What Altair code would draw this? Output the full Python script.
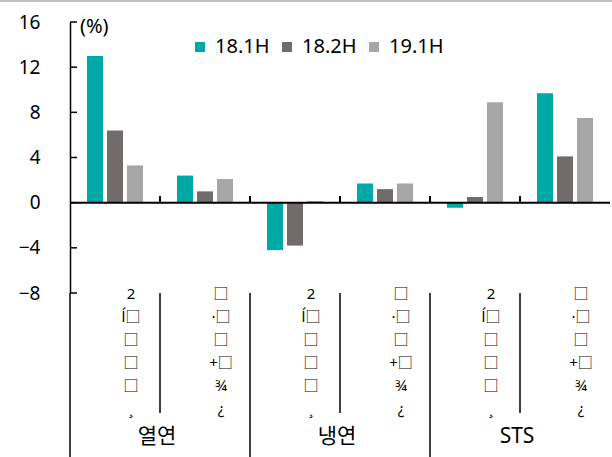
import altair as alt
import pandas as pd

# ---- data ----
categories = ["열연", "냉연", "STS"]
sub_keys = ["a", "b"]
sub_labels = ["2\nĺ□\n□\n□\n□\n¸", "□\n·□\n□\n+□\n¾\n¿"]
series = ["18.1H", "18.2H", "19.1H"]
colors = ["#00A9A5", "#716C6B", "#A6A6A6"]
v_181h = [13.0, 2.4, -4.2, 1.7, -0.45, 9.7]
v_182h = [6.4, 1.0, -3.8, 1.2, 0.5, 4.1]
v_191h = [3.3, 2.1, 0.15, 1.7, 8.9, 7.5]
y_ticks = [-8, -4, 0, 4, 8, 12, 16]
unit_label = ["(%)"]

FONT = "Noto Sans, Noto Sans CJK KR"

slots = [f"{c}-{k}" for c in categories for k in sub_keys]
values = {"18.1H": v_181h, "18.2H": v_182h, "19.1H": v_191h}

bars_df = pd.DataFrame(
    [{"slot": slots[i], "series": s, "value": values[s][i]} for s in series for i in range(len(slots))]
)
sub_df = pd.DataFrame(
    [{"slot": slots[i], "label": sub_labels[i % 2]} for i in range(len(slots))]
)
cat_df = pd.DataFrame(
    [{"slot": f"{c}-{sub_keys[0]}", "cat": c} for c in categories]
)
minor_sep_df = pd.DataFrame({"slot": [slots[i] for i in (1, 3, 5)]})
major_sep_df = pd.DataFrame({"slot": [slots[i] for i in (2, 4)]})
zero_tick_df = pd.DataFrame({"slot": slots[1:]})
ytick_df = pd.DataFrame({"v": y_ticks})
one_df = pd.DataFrame({"t": unit_label})

xscale = alt.Scale(domain=slots, paddingInner=0, paddingOuter=0)
yscale = alt.Scale(domain=[-8, 16], nice=False, zero=False)

bars = alt.Chart(bars_df).mark_bar().encode(
    x=alt.X("slot:N", scale=xscale, axis=None, sort=slots),
    xOffset=alt.XOffset("series:N", sort=series,
                        scale=alt.Scale(paddingInner=0.2, paddingOuter=0.85)),
    y=alt.Y("value:Q", scale=yscale,
            axis=alt.Axis(values=y_ticks, ticks=False, grid=False, domain=True,
                          domainColor="black", domainWidth=1.5, labelFontSize=19,
                          labelFont=FONT, labelColor="black", labelPadding=30,
                          title=None)),
    color=alt.Color("series:N", sort=series,
                    scale=alt.Scale(domain=series, range=colors),
                    legend=alt.Legend(orient="none", legendX=120, legendY=15,
                                      direction="horizontal", title=None,
                                      symbolType="square", symbolSize=100,
                                      symbolStrokeWidth=0, labelFontSize=20,
                                      labelFont=FONT, labelColor="black",
                                      columnPadding=7, labelOffset=5)),
)

zero_line = alt.Chart(one_df).mark_rule(color="black", strokeWidth=2).encode(
    y=alt.Y(datum=0, scale=yscale), x=alt.value(0), x2=alt.value(540)
)

zero_ticks = alt.Chart(zero_tick_df).mark_rule(color="black", strokeWidth=2).encode(
    x=alt.X("slot:N", bandPosition=0, scale=xscale, axis=None, sort=slots),
    y=alt.Y(datum=0, scale=yscale), y2=alt.Y2(datum=0.6)
)

y_inside_ticks = alt.Chart(ytick_df).mark_rule(color="black", strokeWidth=1.5).encode(
    y=alt.Y("v:Q", scale=yscale), x=alt.value(0), x2=alt.value(7)
)

y_ext = alt.Chart(one_df).mark_rule(color="black", strokeWidth=1.5).encode(
    x=alt.value(0), y=alt.value(271), y2=alt.value(435)
)

minor_sep = alt.Chart(minor_sep_df).mark_rule(color="black", strokeWidth=1.5).encode(
    x=alt.X("slot:N", bandPosition=0, scale=xscale, axis=None, sort=slots),
    y=alt.value(271), y2=alt.value(391)
)

major_sep = alt.Chart(major_sep_df).mark_rule(color="black", strokeWidth=1.5).encode(
    x=alt.X("slot:N", bandPosition=0, scale=xscale, axis=None, sort=slots),
    y=alt.value(271), y2=alt.value(435)
)

sub_text = alt.Chart(sub_df).mark_text(
    lineBreak="\n", fontSize=15, lineHeight=23, baseline="top", align="center",
    dx=16, font=FONT, color="black"
).encode(
    x=alt.X("slot:N", scale=xscale, axis=None, sort=slots),
    y=alt.value(265),
    text="label:N",
)

cat_text = alt.Chart(cat_df).mark_text(
    fontSize=21, baseline="middle", align="center", dx=-3, font=FONT, color="black"
).encode(
    x=alt.X("slot:N", bandPosition=1, scale=xscale, axis=None, sort=slots),
    y=alt.value(415),
    text="cat:N",
)

unit_text = alt.Chart(one_df).mark_text(
    fontSize=20, baseline="middle", align="left", font=FONT, color="black"
).encode(x=alt.value(10), y=alt.value(5), text="t:N")

top_line = alt.Chart(one_df).mark_rule(color="#A9AEB3", strokeWidth=1.5).encode(
    x=alt.value(-70), x2=alt.value(542), y=alt.value(-21)
)

chart = alt.layer(
    top_line, bars, zero_line, zero_ticks, y_inside_ticks, y_ext,
    minor_sep, major_sep, sub_text, cat_text, unit_text
).properties(
    width=540, height=271,
    autosize=alt.AutoSizeParams(type="none"),
    padding={"left": 70, "top": 22, "right": 2, "bottom": 164},
    background="white",
).configure_view(stroke=None)

chart.save("out.html", embed_options={"renderer": "svg", "actions": False})
